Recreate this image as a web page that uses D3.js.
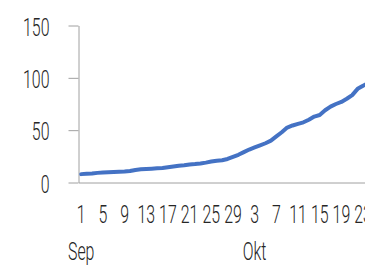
<!DOCTYPE html>
<html>
<head>
<meta charset="utf-8">
<script src="https://cdn.jsdelivr.net/npm/d3@7"></script>
<style>
  html, body { margin: 0; padding: 0; background: #fff; overflow: hidden; }
  svg { display: block; }
  text { font-family: Roboto, "Liberation Sans Narrow", sans-serif; font-weight: 300; fill: #262626; }
</style>
</head>
<body>
<svg id="chart" width="365" height="265"></svg>
<script>
// Daily figures, 1 Sep to 24 Okt (the right edge of the chart is cut off)

const firstDay = new Date(2020, 8, 1);
const lastDay = new Date(2020, 9, 25);
const dates = d3.timeDay.range(firstDay, lastDay);

const values = [
  8, 8.3, 8.6, 9.2, 9.6, 9.8, 10, 10.2, 10.5, 11,
  12, 12.6, 13, 13.2, 13.5, 13.8, 14.5, 15.3, 16, 16.5,
  17.2, 17.6, 18.2, 19, 20, 20.8, 21.3, 22.5, 24.5, 26.5,
  29, 31.5, 33.5, 35.5, 37.5, 40, 44, 48, 52.5, 54.5,
  56, 57.5, 60, 63, 64.5, 69, 72.5, 75, 77, 80,
  83.5, 89.5, 92.5, 95
];

const yTicks = [0, 50, 100, 150];
const monthNames = ["Jan", "Feb", "Mar", "Apr", "Mai", "Jun", "Jul", "Aug", "Sep", "Okt", "Nov", "Des"];

const svg = d3.select("#chart");

const step = 5.42;
const left = 78.5;

const x = d3.scaleBand()
  .domain(dates)
  .range([left, left + dates.length * step]);

const y = d3.scaleLinear()
  .domain([0, 150])
  .range([182.5, 25.5]);

// Labels are drawn in a condensed style, so squeeze them horizontally
const squeeze = 0.6;
const fontSize = 26.5;

// Y axis

const yAxis = svg.append("g")
  .attr("transform", `translate(${left},0)`)
  .call(d3.axisLeft(y).tickValues(yTicks).tickSize(10).tickSizeOuter(0));

yAxis.selectAll("path, line").attr("stroke", "#a0a0a0");
yAxis.selectAll("text")
  .attr("x", 0)
  .attr("dy", "0.36em")
  .attr("font-size", fontSize)
  .attr("font-family", null)
  .attr("transform", `translate(-29,0) scale(${squeeze},1)`);

// X axis, a tick label every 4 days with the month below where it changes

const tickDates = dates.filter((d, i) => i % 4 === 0);

const xAxis = svg.append("g")
  .attr("transform", `translate(0,${y(0)})`)
  .call(d3.axisBottom(x).tickValues(tickDates).tickSize(0).tickSizeOuter(0)
    .tickFormat(d => d.getDate()));

xAxis.select(".domain").attr("stroke", "#a0a0a0");

let lastMonth = -1;
xAxis.selectAll(".tick text")
  .attr("y", 0)
  .attr("dy", null)
  .attr("font-size", fontSize)
  .attr("font-family", null)
  .attr("transform", `translate(0,40) scale(${squeeze},1)`)
  .each(function (d) {
    if (d.getMonth() !== lastMonth) {
      lastMonth = d.getMonth();
      d3.select(this).append("tspan")
        .attr("x", 0)
        .attr("dy", 38)
        .text(monthNames[lastMonth]);
    }
  });

// The line

const line = d3.line()
  .x((d, i) => x(dates[i]) + x.bandwidth() / 2)
  .y(d => y(d));

svg.append("path")
  .datum(values)
  .attr("fill", "none")
  .attr("stroke", "#4472C4")
  .attr("stroke-width", 4)
  .attr("stroke-linejoin", "round")
  .attr("stroke-linecap", "round")
  .attr("d", line);
</script>
</body>
</html>
